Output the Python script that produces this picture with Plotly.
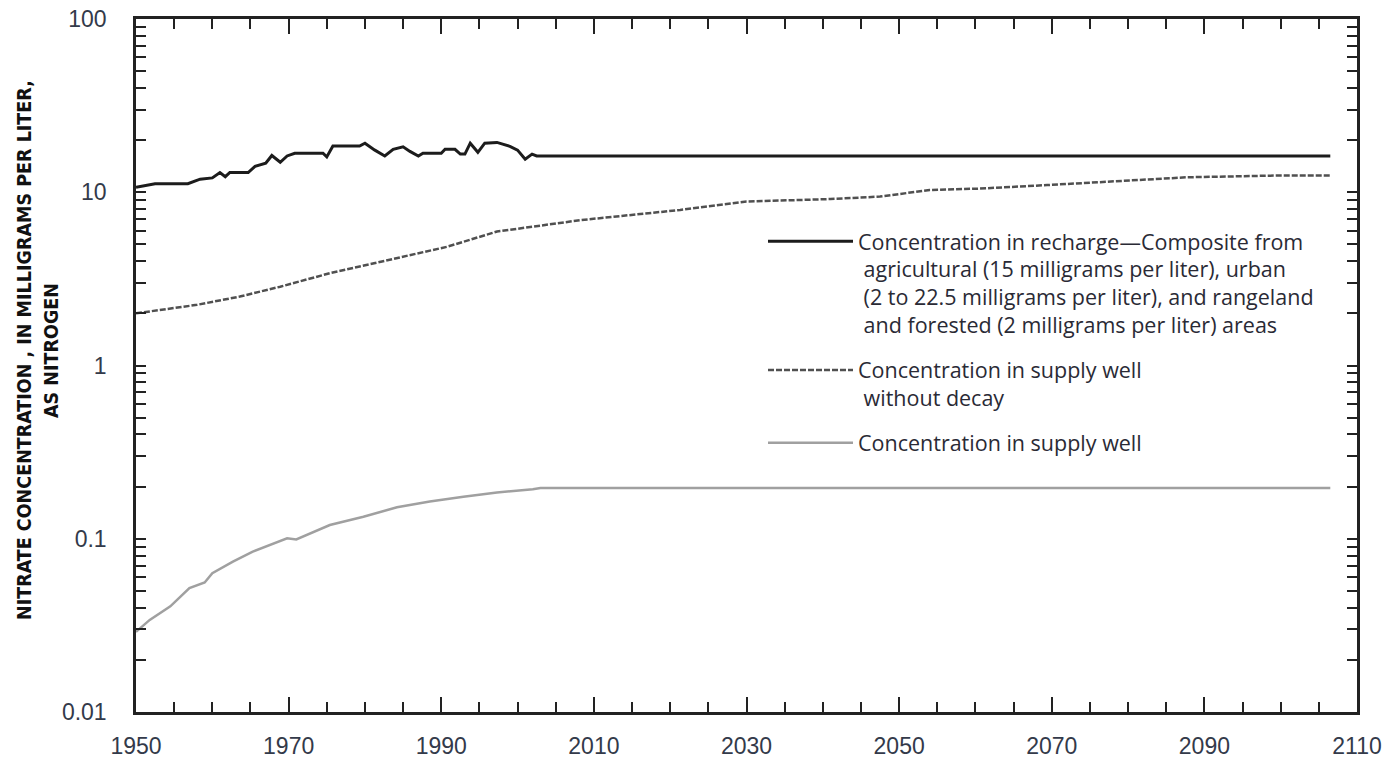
import plotly.graph_objects as go

# ---- data ----
recharge_years = [1950, 1952.5, 1956.8, 1958.4, 1960, 1961, 1961.7, 1962.3, 1964.7, 1965.6,
                  1967, 1967.8, 1968.9, 1969.8, 1970.8, 1974.5, 1975, 1975.8, 1979.3, 1980,
                  1981.3, 1982.6, 1983.7, 1985, 1985.9, 1987, 1987.6, 1990, 1990.5, 1991.8,
                  1992.5, 1993.1, 1993.8, 1994.8, 1995.7, 1997.3, 1999, 2000, 2001, 2001.9,
                  2002.5, 2106.5]
recharge_conc = [10.7, 11.2, 11.2, 11.9, 12.1, 13.0, 12.3, 13.0, 13.0, 14.1,
                 14.7, 16.3, 14.9, 16.2, 16.8, 16.8, 16.0, 18.5, 18.5, 19.2,
                 17.5, 16.2, 17.7, 18.3, 17.2, 16.2, 16.8, 16.8, 17.7, 17.7,
                 16.6, 16.6, 19.2, 17.0, 19.2, 19.4, 18.4, 17.5, 15.5, 16.6,
                 16.2, 16.2]

nodecay_years = [1950, 1958, 1963.6, 1968.9, 1975.4, 1983.3, 1990.8, 1997.3, 2003.9, 2008.2,
                 2021.3, 2030, 2041, 2047.5, 2054, 2060.6, 2069.4, 2077.7, 2087.7, 2100, 2106.5]
nodecay_conc = [2.0, 2.24, 2.5, 2.85, 3.41, 4.07, 4.85, 5.93, 6.47, 6.9,
                7.9, 8.83, 9.14, 9.44, 10.3, 10.5, 11.0, 11.5, 12.2, 12.5, 12.5]

well_years = [1950, 1951.8, 1954.5, 1957, 1959, 1960, 1962.7, 1965.3, 1969.8, 1971,
              1975.4, 1979.8, 1984.2, 1988.5, 1992.9, 1997.3, 2002, 2003, 2106.5]
well_conc = [0.029, 0.034, 0.0407, 0.0519, 0.0559, 0.0633, 0.0738, 0.0843, 0.1007, 0.099,
             0.120, 0.134, 0.152, 0.164, 0.175, 0.185, 0.193, 0.196, 0.196]

x_tickvals = [1950, 1970, 1990, 2010, 2030, 2050, 2070, 2090, 2110]
y_tickvals = [0.01, 0.1, 1, 10, 100]
y_ticktext = ["0.01", "0.1", "1", "10", "100"]

legend_names = [
    "Concentration in recharge\u2014Composite from<br> agricultural (15 milligrams per liter), urban<br>"
    " (2 to 22.5 milligrams per liter), and rangeland<br> and forested (2 milligrams per liter) areas",
    "Concentration in supply well<br> without decay",
    "Concentration in supply well",
]

fig = go.Figure()
fig.add_trace(go.Scatter(x=recharge_years, y=recharge_conc, mode="lines",
                         name=legend_names[0], legendgroup="a",
                         line=dict(color="#1c1c1c", width=3)))
fig.add_trace(go.Scatter(x=nodecay_years, y=nodecay_conc, mode="lines",
                         name=legend_names[1], legendgroup="b",
                         line=dict(color="#505050", width=2.5, dash="6px,2px")))
fig.add_trace(go.Scatter(x=well_years, y=well_conc, mode="lines",
                         name=legend_names[2], legendgroup="c",
                         line=dict(color="#a0a0a0", width=2.5)))

tick_font = dict(family="Liberation Sans, Arial, sans-serif", size=23, color="#333a4a")
title_font = dict(family="Liberation Sans Narrow, Arial Narrow, DejaVu Sans Condensed, sans-serif",
                  size=19.5, color="#111111")

fig.update_layout(
    width=1387, height=758,
    margin=dict(l=136, r=30, t=19, b=46, autoexpand=False),
    paper_bgcolor="white", plot_bgcolor="white",
    showlegend=True,
    legend=dict(x=(763 - 136) / 1221, y=0.709, xanchor="left", yanchor="top",
                font=dict(family="Open Sans, Noto Sans, sans-serif", size=21.5, color="#2a2a35"),
                bgcolor="rgba(255,255,255,0)", valign="top", tracegroupgap=14,
                itemwidth=85),
    annotations=[
        dict(text="<b>NITRATE CONCENTRATION , IN MILLIGRAMS PER LITER,</b>",
             xref="paper", yref="paper", x=-(136 - 24) / 1221, y=1 - (350 - 19) / 693,
             xanchor="center", yanchor="middle", textangle=-90, showarrow=False,
             font=title_font),
        dict(text="<b>AS NITROGEN</b>",
             xref="paper", yref="paper", x=-(136 - 51) / 1221, y=1 - (350 - 19) / 693,
             xanchor="center", yanchor="middle", textangle=-90, showarrow=False,
             font=title_font),
    ],
)

fig.update_xaxes(
    range=[1950, 2110], tickvals=x_tickvals, ticks="inside", ticklen=15, tickwidth=2,
    tickcolor="#222", showline=True, linecolor="#222", linewidth=2.5, mirror="ticks",
    showgrid=False, zeroline=False, tickfont=tick_font, ticklabelstandoff=12, automargin=False,
    minor=dict(dtick=5, ticks="inside", ticklen=10, tickwidth=2, tickcolor="#222", showgrid=False),
)
fig.update_yaxes(
    type="log", range=[-2, 2], tickvals=y_tickvals, ticktext=y_ticktext,
    ticks="inside", ticklen=10, tickwidth=2, tickcolor="#222",
    showline=True, linecolor="#222", linewidth=2.5, mirror="ticks",
    showgrid=False, zeroline=False, tickfont=tick_font, ticklabelstandoff=22, automargin=False,
    minor=dict(dtick="D1", ticks="inside", ticklen=10, tickwidth=2, tickcolor="#222", showgrid=False),
)

fig.write_html("out.html", config={"displayModeBar": False},
               post_script="document.body.style.margin='0';document.body.style.overflow='hidden';")
